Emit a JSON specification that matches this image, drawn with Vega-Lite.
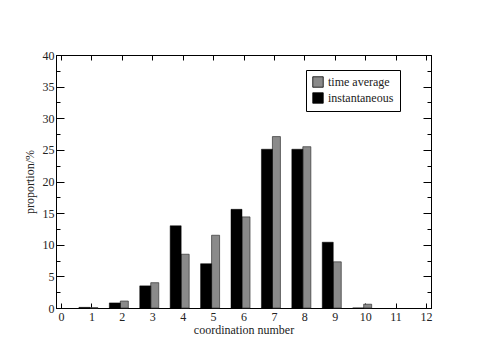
{
  "$schema": "https://vega.github.io/schema/vega-lite/v6.json",
  "autosize": "none",
  "width": 375,
  "height": 253,
  "padding": {"left": 56, "top": 55, "right": 49, "bottom": 52},
  "background": "white",
  "config": {
    "view": {"stroke": "black", "strokeWidth": 1},
    "font": "Liberation Serif",
    "text": {"font": "Liberation Serif"},
    "legend": {"labelFont": "Liberation Serif", "titleFont": "Liberation Serif"},
    "axis": {"labelFont": "Liberation Serif", "titleFont": "Liberation Serif", "labelColor": "#222", "titleColor": "#222", "domainColor": "black", "tickColor": "black", "grid": false, "titleFontWeight": "normal", "labelFontSize": 12, "titleFontSize": 12}
  },
  "data": {"values": [
    {"n": 1, "series": "instantaneous", "value": 0.1},
    {"n": 2, "series": "instantaneous", "value": 0.8},
    {"n": 3, "series": "instantaneous", "value": 3.5},
    {"n": 4, "series": "instantaneous", "value": 13.0},
    {"n": 5, "series": "instantaneous", "value": 7.0},
    {"n": 6, "series": "instantaneous", "value": 15.6},
    {"n": 7, "series": "instantaneous", "value": 25.1},
    {"n": 8, "series": "instantaneous", "value": 25.1},
    {"n": 9, "series": "instantaneous", "value": 10.4},
    {"n": 10, "series": "instantaneous", "value": 0.0},
    {"n": 1, "series": "time average", "value": 0.05},
    {"n": 2, "series": "time average", "value": 1.1},
    {"n": 3, "series": "time average", "value": 4.0},
    {"n": 4, "series": "time average", "value": 8.5},
    {"n": 5, "series": "time average", "value": 11.5},
    {"n": 6, "series": "time average", "value": 14.4},
    {"n": 7, "series": "time average", "value": 27.1},
    {"n": 8, "series": "time average", "value": 25.5},
    {"n": 9, "series": "time average", "value": 7.3},
    {"n": 10, "series": "time average", "value": 0.6}
  ]},
  "layer": [
    {
      "transform": [{"filter": "datum.series === 'time average'"}],
      "mark": {"type": "bar", "width": 8, "xOffset": 2.5, "stroke": "#333", "strokeWidth": 0.7},
      "encoding": {
        "x": {"field": "n", "type": "quantitative", "scale": {"domain": [0, 12], "nice": false},
          "axis": {"orient": "bottom", "values": [0,1,2,3,4,5,6,7,8,9,10,11,12], "tickSize": -5, "labelPadding": 8, "title": "coordination number", "titlePadding": 2, "labelFont": "Liberation Serif", "titleFont": "Liberation Serif"}},
        "y": {"field": "value", "type": "quantitative", "scale": {"domain": [0, 40], "nice": false},
          "axis": {"orient": "left", "values": [0,5,10,15,20,25,30,35,40], "tickSize": -8, "labelPadding": 10, "title": "proportion/%", "titlePadding": 6, "labelFont": "Liberation Serif", "titleFont": "Liberation Serif"}},
        "color": {"field": "series", "type": "nominal", "scale": {"domain": ["time average", "instantaneous"], "range": ["#8a8a8a", "#000000"]},
          "legend": {"title": null, "orient": "none", "legendX": 250, "legendY": 15, "strokeColor": "black", "padding": 6, "symbolType": "square", "symbolSize": 110, "symbolStrokeColor": "black", "symbolStrokeWidth": 0.8, "labelFont": "Liberation Serif", "labelFontSize": 12, "labelColor": "#222", "rowPadding": 2, "fillColor": "white"}}
      }
    },
    {
      "transform": [{"filter": "datum.series === 'instantaneous'"}],
      "mark": {"type": "bar", "width": 11, "xOffset": -7, "stroke": "black", "strokeWidth": 0.5},
      "encoding": {
        "x": {"field": "n", "type": "quantitative", "scale": {"domain": [0, 12], "nice": false}, "axis": null},
        "y": {"field": "value", "type": "quantitative", "scale": {"domain": [0, 40], "nice": false}, "axis": null},
        "color": {"field": "series", "type": "nominal", "scale": {"domain": ["time average", "instantaneous"], "range": ["#8a8a8a", "#000000"]}, "legend": null}
      }
    },
    {
      "mark": {"type": "rule", "opacity": 0},
      "encoding": {
        "x": {"field": "n", "type": "quantitative", "scale": {"domain": [0, 12], "nice": false}, "axis": {"orient": "top", "values": [0,1,2,3,4,5,6,7,8,9,10,11,12], "tickSize": -5, "labels": false, "title": null}},
        "y": {"field": "value", "type": "quantitative", "scale": {"domain": [0, 40], "nice": false}, "axis": {"orient": "right", "values": [0,5,10,15,20,25,30,35,40], "tickSize": -8, "labels": false, "title": null}}
      }
    },
    {
      "mark": {"type": "rule", "opacity": 0},
      "encoding": {
        "y": {"field": "value", "type": "quantitative", "scale": {"domain": [0, 40], "nice": false}, "axis": {"orient": "left", "values": [2.5,7.5,12.5,17.5,22.5,27.5,32.5,37.5], "tickSize": -4, "labels": false, "title": null, "domain": false}}
      }
    },
    {
      "mark": {"type": "rule", "opacity": 0},
      "encoding": {
        "y": {"field": "value", "type": "quantitative", "scale": {"domain": [0, 40], "nice": false}, "axis": {"orient": "right", "values": [2.5,7.5,12.5,17.5,22.5,27.5,32.5,37.5], "tickSize": -4, "labels": false, "title": null, "domain": false}}
      }
    }
  ],
  "resolve": {"axis": {"x": "independent", "y": "independent"}}
}
